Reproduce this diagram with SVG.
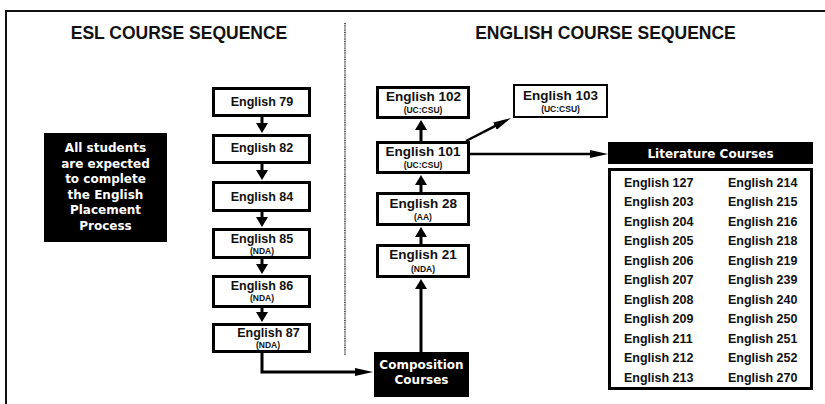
<svg xmlns="http://www.w3.org/2000/svg" width="825" height="404" viewBox="0 0 825 404">
<style>
.t{font-family:"Liberation Sans",Arial,sans-serif;font-weight:bold;fill:#111;text-anchor:middle}
.title{font-size:17.5px}
.e1{font-size:12.5px}
.e2{font-size:13.5px}
.sm{font-size:8.5px}
.w{font-family:"DejaVu Sans",sans-serif;font-weight:bold;font-size:12px;fill:#fff;text-anchor:middle}
.lst{font-family:"Liberation Sans",Arial,sans-serif;font-weight:bold;font-size:12.5px;fill:#111}
.box{fill:#fff;stroke:#000;stroke-width:3}
.blk{fill:#000}
.ln{fill:none;stroke:#000;stroke-width:3}
.ln2{fill:none;stroke:#000;stroke-width:2.5}
</style>
<defs>
<marker id="ah" viewBox="0 0 10 12" refX="1" refY="6" markerWidth="10" markerHeight="12" markerUnits="userSpaceOnUse" orient="auto"><path d="M0,0 L10,6 L0,12 z" fill="#000"/></marker>
<marker id="al" viewBox="0 0 18 8" refX="1" refY="4" markerWidth="18" markerHeight="8" markerUnits="userSpaceOnUse" orient="auto"><path d="M0,0 L18,4 L0,8 z" fill="#000"/></marker>
</defs>
<rect width="825" height="404" fill="#fff"/>
<path d="M6,404 V11 H825" fill="none" stroke="#111" stroke-width="2"/>
<line x1="345" y1="23" x2="345" y2="355" stroke="#222" stroke-width="1.5" stroke-dasharray="1,0.8"/>
<text class="t title" x="179" y="39">ESL COURSE SEQUENCE</text>
<text class="t title" x="605.5" y="39">ENGLISH COURSE SEQUENCE</text>

<g id="placement"><rect class="blk" x="44" y="133" width="123" height="109"/>
<text class="w" x="105.5" y="152">All students</text>
<text class="w" x="105.5" y="167.5">are expected</text>
<text class="w" x="105.5" y="183">to complete</text>
<text class="w" x="105.5" y="198.5">the English</text>
<text class="w" x="105.5" y="214">Placement</text>
<text class="w" x="105.5" y="229.5">Process</text></g>

<g id="e79"><rect class="box" x="213.5" y="88.5" width="96" height="27"/><text class="t e1" x="262" y="106">English 79</text></g>
<g id="e82"><rect class="box" x="213.5" y="135.5" width="96" height="27"/><text class="t e1" x="262" y="152">English 82</text></g>
<g id="e84"><rect class="box" x="213.5" y="182.5" width="96" height="28"/><text class="t e1" x="262" y="200.5">English 84</text></g>
<g id="e85"><rect class="box" x="213.5" y="229.5" width="96" height="28"/><text class="t e1" x="262" y="243">English 85</text><text class="t sm" x="262" y="253.5">(NDA)</text></g>
<g id="e86"><rect class="box" x="213.5" y="276.5" width="96" height="30"/><text class="t e1" x="262" y="290">English 86</text><text class="t sm" x="262" y="300.5">(NDA)</text></g>
<g id="e87"><rect class="box" x="213.5" y="324.5" width="96" height="27"/><text class="t e1" x="268.5" y="337">English 87</text><text class="t sm" x="268" y="347.5">(NDA)</text></g>

<g id="e102"><rect class="box" x="377.5" y="87.5" width="91" height="30"/><text class="t e2" x="423.5" y="101">English 102</text><text class="t sm" x="423" y="113">(UC:CSU)</text></g>
<g id="e103"><rect class="box" x="514" y="85" width="93" height="32" style="stroke-width:2"/><text class="t e2" x="560.5" y="99.5">English 103</text><text class="t sm" x="560.5" y="112">(UC:CSU)</text></g>
<g id="e101"><rect class="box" x="377.5" y="142.5" width="91" height="30"/><text class="t e2" x="423" y="155.5">English 101</text><text class="t sm" x="423" y="167.5">(UC:CSU)</text></g>
<g id="e28"><rect class="box" x="377.5" y="193.5" width="91" height="31"/><text class="t e2" x="423.3" y="207.5">English 28</text><text class="t sm" x="423" y="219.5">(AA)</text></g>
<g id="e21"><rect class="box" x="377.5" y="245.5" width="91" height="31"/><text class="t e2" x="423" y="259">English 21</text><text class="t sm" x="423" y="271.5">(NDA)</text></g>
<g id="comp"><rect class="blk" x="374" y="352" width="95" height="45"/><text class="w" x="421.5" y="369">Composition</text><text class="w" x="421.5" y="384">Courses</text></g>

<g id="lit"><rect class="blk" x="608" y="142" width="205" height="22"/><text class="w" x="710.5" y="157.5">Literature Courses</text></g>
<g id="litlist"><rect class="box" x="609.5" y="169.5" width="202" height="219"/>
<text class="lst" x="624" y="186.5">English 127</text><text class="lst" x="728" y="186.5">English 214</text>
<text class="lst" x="624" y="206">English 203</text><text class="lst" x="728" y="206">English 215</text>
<text class="lst" x="624" y="225.6">English 204</text><text class="lst" x="728" y="225.6">English 216</text>
<text class="lst" x="624" y="245.1">English 205</text><text class="lst" x="728" y="245.1">English 218</text>
<text class="lst" x="624" y="264.7">English 206</text><text class="lst" x="728" y="264.7">English 219</text>
<text class="lst" x="624" y="284.2">English 207</text><text class="lst" x="728" y="284.2">English 239</text>
<text class="lst" x="624" y="303.8">English 208</text><text class="lst" x="728" y="303.8">English 240</text>
<text class="lst" x="624" y="323.3">English 209</text><text class="lst" x="728" y="323.3">English 250</text>
<text class="lst" x="624" y="342.9">English 211</text><text class="lst" x="728" y="342.9">English 251</text>
<text class="lst" x="624" y="362.4">English 212</text><text class="lst" x="728" y="362.4">English 252</text>
<text class="lst" x="624" y="382">English 213</text><text class="lst" x="728" y="382">English 270</text></g>

<g id="connectors">
<path class="ln" d="M262,117 V124" marker-end="url(#ah)"/>
<path class="ln" d="M262,164 V171" marker-end="url(#ah)"/>
<path class="ln" d="M262,212 V218" marker-end="url(#ah)"/>
<path class="ln" d="M262,259 V265" marker-end="url(#ah)"/>
<path class="ln" d="M262,308 V313" marker-end="url(#ah)"/>
<path class="ln" d="M262,353 V372 H356" marker-end="url(#al)"/>
<path class="ln" d="M421,352 V288" marker-end="url(#ah)"/>
<path class="ln" d="M421,244 V236" marker-end="url(#ah)"/>
<path class="ln" d="M421,192 V184" marker-end="url(#ah)"/>
<path class="ln" d="M421,141 V129" marker-end="url(#ah)"/>
<path class="ln2" d="M466,141 L495.9,125.7" marker-end="url(#al)"/>
<path class="ln2" d="M470,154 H591" marker-end="url(#al)"/>
</g>
</svg>
